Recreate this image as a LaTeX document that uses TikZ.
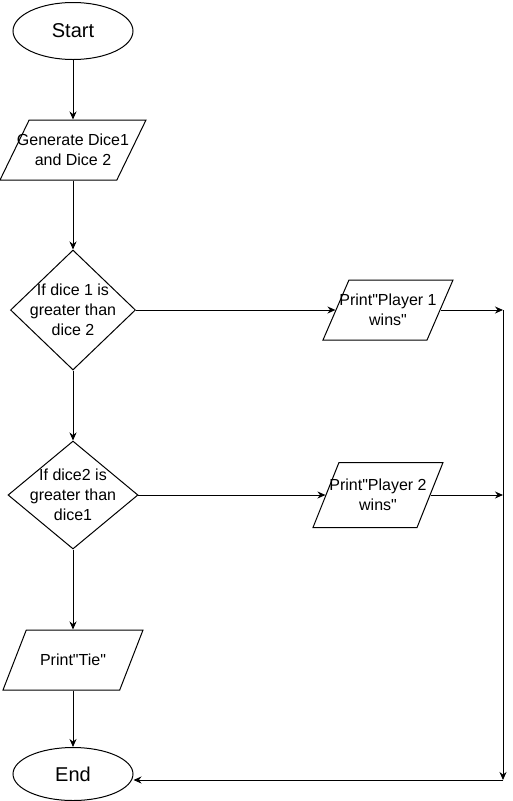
\documentclass[tikz,border=0pt]{standalone}
\usepackage{fontspec}
\setmainfont{Liberation Sans}
\usetikzlibrary{shapes.geometric,arrows.meta}

\begin{document}
\begin{tikzpicture}[x=1pt,y=-1pt,line width=1pt,>={Stealth[length=8pt,width=7pt]},
  term/.style={draw,ellipse,minimum width=120pt,minimum height=57pt,inner sep=0pt,
    font=\fontsize{20}{24}\selectfont},
  io/.style={draw,trapezium,trapezium left angle=71.6,trapezium right angle=108.4,
    trapezium stretches=true,minimum height=60pt,inner sep=1pt},
  decision/.style={draw,diamond,inner sep=1pt},
  txt/.style={align=center,font=\fontsize{16}{20}\selectfont}]

  \useasboundingbox (0,0) rectangle (512,801);

  % left column
  \node[term] (start) at (73,31) {Start};
  \node[io,minimum width=146pt,label={[txt]center:Generate Dice1\\and Dice 2}] (gen) at (73,150) {};
  \node[decision,minimum width=125pt,minimum height=120pt,
    label={[txt]center:If dice 1 is\\greater than\\dice 2}] (dice1) at (73,310) {};
  \node[decision,minimum width=130pt,minimum height=108pt,
    label={[txt]center:If dice2 is\\greater than\\dice1}] (dice2) at (73,495) {};
  \node[io,minimum width=140pt,trapezium left angle=76,trapezium right angle=104,
    label={[txt]center:Print\textquotedbl Tie\textquotedbl}] (tie) at (73,660) {};
  \node[term,minimum height=53pt] (end) at (73,774) {End};

  % right column
  \node[io,minimum width=130pt,
    label={[txt]center:Print\textquotedbl Player 1\\wins\textquotedbl}] (p1) at (388,310) {};
  \node[io,minimum width=130pt,minimum height=65pt,
    label={[txt]center:Print\textquotedbl Player 2\\wins\textquotedbl}] (p2) at (378,495) {};

  \coordinate (j1) at (503,310);
  \coordinate (j2) at (503,495);
  \coordinate (j3) at (503,780);

  % draw arrows down the left side
  \draw[->] (start) -- (gen);
  \draw[->] (gen) -- (dice1);
  \draw[->] (dice1) -- (dice2);
  \draw[->] (dice2) -- (tie);
  \draw[->] (tie) -- (end);

  % draw arrows to the right side
  \draw[->] (dice1) -- (p1);
  \draw[->] (dice2) -- (p2);
  \draw[->] (p1) -- (j1);
  \draw[->] (p2) -- (j2);
  \draw[->] (j1) -- (j3);
  \draw[->] (j3) -- (j3 -| end.east);

\end{tikzpicture}
\end{document}
